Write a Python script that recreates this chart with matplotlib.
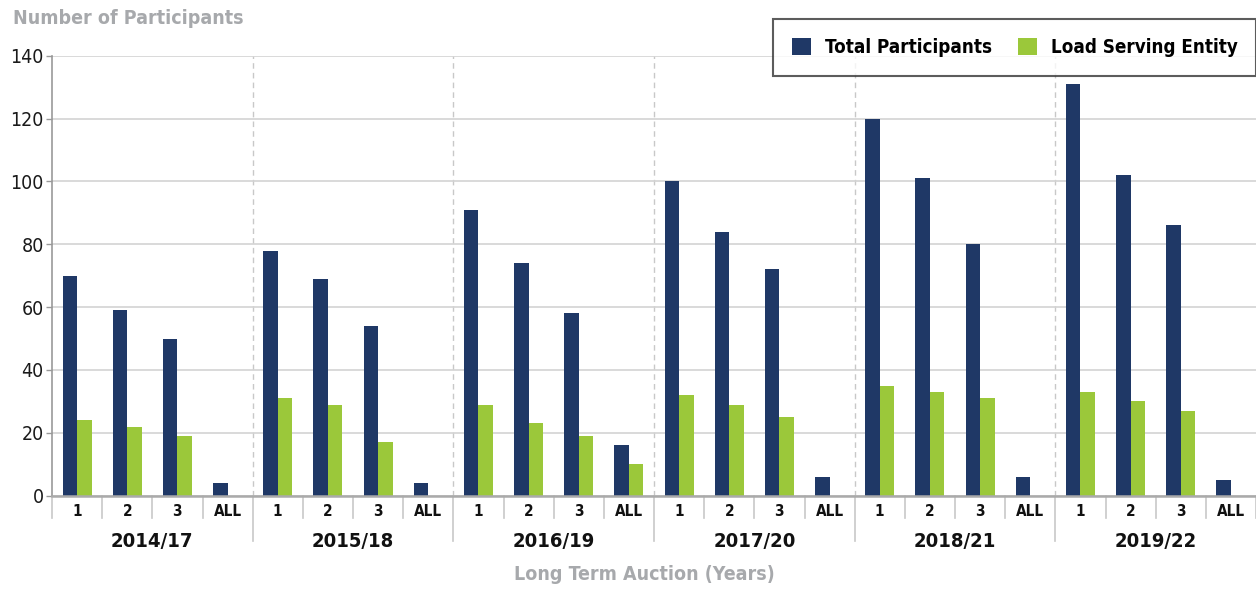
import matplotlib
matplotlib.use('Agg')
import matplotlib.pyplot as plt
import matplotlib.transforms as mtransforms
from matplotlib.patches import Patch
import numpy as np

plt.rcParams['font.family'] = ['DejaVu Sans']
plt.rcParams['font.stretch'] = 'condensed'

# Dados
anos = ['2014/17', '2015/18', '2016/19', '2017/20', '2018/21', '2019/22']
subgrupos = ['1', '2', '3', 'ALL']
total_participantes = [70, 59, 50, 4,
                       78, 69, 54, 4,
                       91, 74, 58, 16,
                       100, 84, 72, 6,
                       120, 101, 80, 6,
                       131, 102, 86, 5]
lse = [24, 22, 19, 0,
       31, 29, 17, 0,
       29, 23, 19, 10,
       32, 29, 25, 0,
       35, 33, 31, 0,
       33, 30, 27, 0]

cor_total = '#1f3866'
cor_lse = '#9bc83a'
cinza = '#a7a9ac'

fig = plt.figure(figsize=(12.56, 5.89), dpi=100)
ax = fig.add_axes([52 / 1256, 1 - 495.7 / 589, 1 - 52 / 1256, (495.7 - 55.7) / 589])

n = len(total_participantes)
centros = np.arange(n) + 0.5
largura = 0.29

ax.bar(centros - largura, total_participantes, width=largura, align='edge', color=cor_total, zorder=3)
ax.bar(centros, lse, width=largura, align='edge', color=cor_lse, zorder=3)

ax.set_xlim(0, n)
ax.set_ylim(0, 140)
ax.set_yticks(range(0, 141, 20))
ax.yaxis.grid(True, color='#d3d3d3', linewidth=1.2, zorder=0)
ax.tick_params(axis='y', labelsize=14, colors='#999999', labelcolor='#1a1a1a', length=4, width=1, pad=2)

ax.set_xticks(centros)
ax.set_xticklabels(subgrupos * len(anos), fontsize=11, fontweight='bold', color='#111111')
ax.tick_params(axis='x', length=0, pad=6)

for lado in ['top', 'right']:
    ax.spines[lado].set_visible(False)
ax.spines['left'].set_color('#999999')
ax.spines['left'].set_linewidth(1.2)
ax.spines['bottom'].set_color('#aaaaaa')
ax.spines['bottom'].set_linewidth(1.8)
ax.spines['bottom'].set_zorder(4)

# Separadores entre grupos (tracejado dentro do gráfico)
for g in range(1, len(anos)):
    ax.axvline(g * 4, color='#c8c8c8', linestyle=(0, (4, 3)), linewidth=1, zorder=1)

# Separadores abaixo do eixo
trans = mtransforms.blended_transform_factory(ax.transData, ax.transAxes)
for k in range(n + 1):
    if k % 4 == 0 and 0 < k < n:
        y_fim = -0.102
    else:
        y_fim = -0.05
    ax.plot([k, k], [0, y_fim], transform=trans, color='#c8c8c8', linewidth=1.2, clip_on=False)

# Rótulos dos grupos
for g, ano in enumerate(anos):
    ax.text(g * 4 + 2, -0.105, ano, transform=trans, ha='center', va='center',
            fontsize=14.5, fontweight='bold', color='#111111')

fig.text(644.5 / 1256, 1 - 574 / 589, 'Long Term Auction (Years)', ha='center', va='center',
         fontsize=14, fontweight='bold', color=cinza)
fig.text(13 / 1256, 1 - 18 / 589, 'Number of Participants', ha='left', va='center',
         fontsize=14, fontweight='bold', color=cinza)

handles = [Patch(facecolor=cor_total, label='Total Participants'),
           Patch(facecolor=cor_lse, label='Load Serving Entity')]
leg = fig.legend(handles=handles, loc='upper left', bbox_to_anchor=(773 / 1256, 1 - 19.3 / 589),
                 ncol=2, frameon=True, fancybox=False, handlelength=1.0,
                 handleheight=1.0, columnspacing=1.4, handletextpad=0.75, borderpad=1.0,
                 borderaxespad=0, prop={'weight': 'bold', 'size': 13.5, 'stretch': 'condensed'})
leg.get_frame().set_edgecolor('#333333')
leg.get_frame().set_linewidth(1.5)

plt.savefig('out.png', dpi=100)
